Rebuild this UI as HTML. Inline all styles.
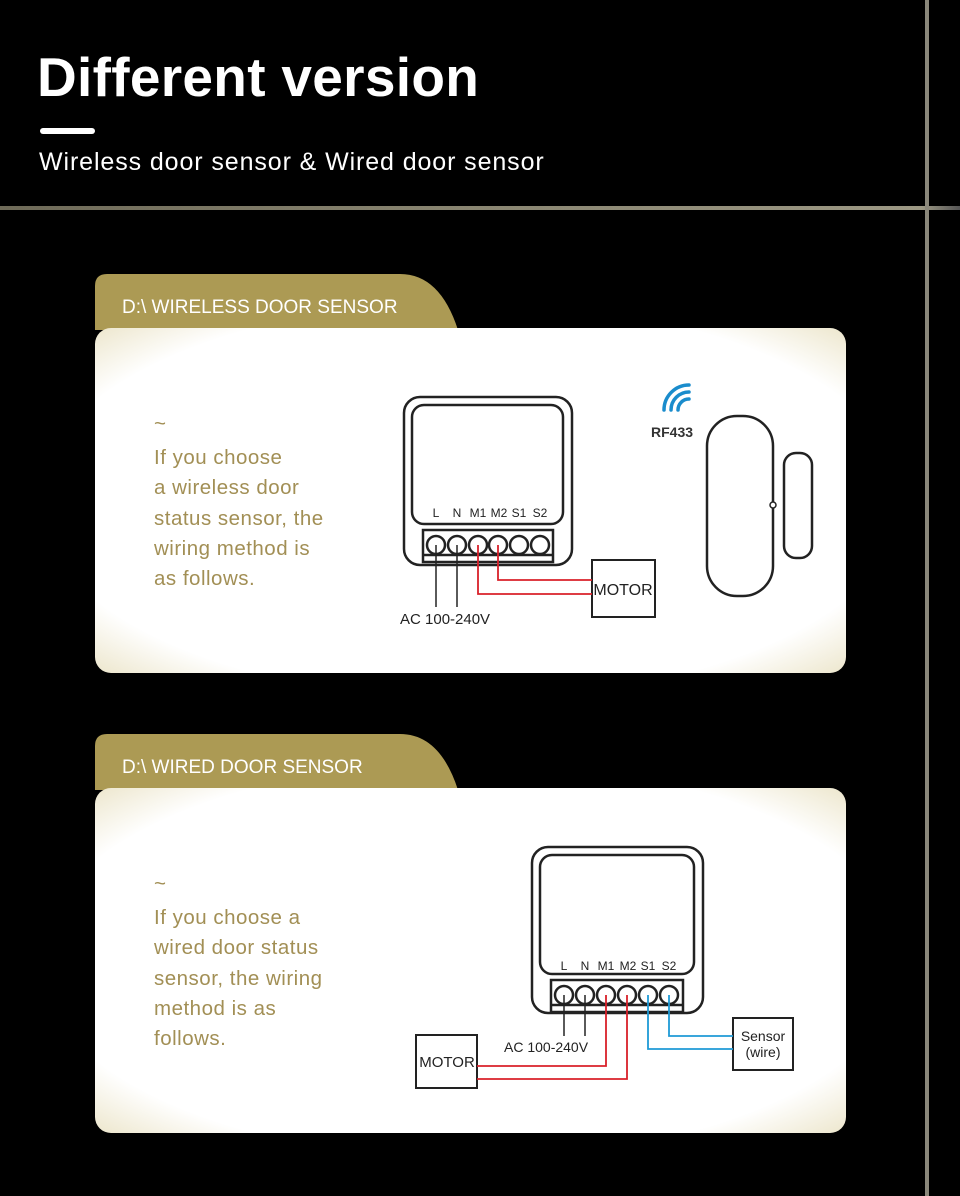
<!DOCTYPE html>
<html><head><meta charset="utf-8"><style>
html,body{margin:0;padding:0;background:#000;}
svg{display:block}
</style></head><body>
<svg width="960" height="1196" viewBox="0 0 960 1196" xmlns="http://www.w3.org/2000/svg" font-family="Liberation Sans, sans-serif">
<defs>
<linearGradient id="hl" x1="0" x2="1"><stop offset="0" stop-color="#6e6a58"/><stop offset="0.5" stop-color="#8a8672"/><stop offset="0.96" stop-color="#9c9884"/><stop offset="1" stop-color="#555"/></linearGradient>
<radialGradient id="cg" cx="0.5" cy="0.5" r="0.72"><stop offset="0.8" stop-color="#ffffff"/><stop offset="1" stop-color="#ebe4c8"/></radialGradient>
</defs>
<rect width="960" height="1196" fill="#000"/>
<rect x="0" y="206" width="960" height="4" fill="url(#hl)"/>
<rect x="925" y="0" width="4" height="1196" fill="#8a877a"/>
<text x="37" y="96" fill="#fff" font-size="55" font-weight="bold" letter-spacing="0.3">Different version</text>
<rect x="40" y="128" width="55" height="6" rx="3" fill="#fff"/>
<text x="39" y="170" fill="#fff" font-size="25" letter-spacing="0.9">Wireless door sensor &amp; Wired door sensor</text>

<!-- card 1 -->
<path d="M95 340 V286 Q95 274 107 274 H400 Q440 274 458 330 H95Z" fill="#ac9a54"/>
<text x="122" y="313" fill="#fff" font-size="19">D:\ WIRELESS DOOR SENSOR</text>
<rect x="95" y="328" width="751" height="345" rx="16" fill="url(#cg)"/>
<g fill="#a28f55" font-size="20.5" letter-spacing="0.5">
<text x="154" y="430">~</text>
<text x="154" y="464">If you choose</text>
<text x="154" y="494">a wireless door</text>
<text x="154" y="525">status sensor, the</text>
<text x="154" y="555">wiring method is</text>
<text x="154" y="585">as follows.</text>
</g>
<g fill="none" stroke="#222" stroke-width="2.5">
<rect x="404" y="397" width="168" height="168" rx="16"/>
<rect x="412" y="405" width="151" height="119" rx="12"/>
<rect x="423" y="530" width="130" height="32"/>
<line x1="423" y1="555" x2="553" y2="555"/>
<circle cx="436" cy="545" r="9"/><circle cx="457" cy="545" r="9"/><circle cx="478" cy="545" r="9"/><circle cx="498" cy="545" r="9"/><circle cx="519" cy="545" r="9"/><circle cx="540" cy="545" r="9"/>
<rect x="592" y="560" width="63" height="57" stroke-width="2"/>
<rect x="707" y="416" width="66" height="180" rx="30"/>
<rect x="784" y="453" width="28" height="105" rx="12"/>
</g>
<g stroke="#222" stroke-width="1.5"><line x1="436" y1="545" x2="436" y2="607"/><line x1="457" y1="545" x2="457" y2="607"/></g>
<g fill="none" stroke="#d9202a" stroke-width="1.8"><path d="M478 545 V594 H592"/><path d="M498 545 V580 H592"/></g>
<g fill="#222" font-size="12" text-anchor="middle"><text x="436" y="517">L</text><text x="457" y="517">N</text><text x="478" y="517">M1</text><text x="499" y="517">M2</text><text x="519" y="517">S1</text><text x="540" y="517">S2</text></g>
<text x="623" y="595" fill="#222" font-size="16" text-anchor="middle">MOTOR</text>
<text x="400" y="624" fill="#222" font-size="15">AC 100-240V</text>
<g fill="none" stroke="#1a8ccc" stroke-width="3.5" stroke-linecap="round">
<path d="M664 410 A25 25 0 0 1 689 385"/><path d="M671 410 A18 18 0 0 1 689 392"/><path d="M678 410 A11 11 0 0 1 689 399"/>
</g>
<text x="651" y="437" fill="#333" font-size="14" font-weight="bold">RF433</text>
<circle cx="773" cy="505" r="3" fill="#fff" stroke="#222" stroke-width="1.5"/>

<!-- card 2 -->
<path d="M95 800 V746 Q95 734 107 734 H400 Q440 734 458 790 H95Z" fill="#ac9a54"/>
<text x="122" y="773" fill="#fff" font-size="19">D:\ WIRED DOOR SENSOR</text>
<rect x="95" y="788" width="751" height="345" rx="16" fill="url(#cg)"/>
<g fill="#a28f55" font-size="20.5" letter-spacing="0.5">
<text x="154" y="890">~</text>
<text x="154" y="924">If you choose a</text>
<text x="154" y="954">wired door status</text>
<text x="154" y="985">sensor, the wiring</text>
<text x="154" y="1015">method is as</text>
<text x="154" y="1045">follows.</text>
</g>
<g fill="none" stroke="#222" stroke-width="2.5">
<rect x="532" y="847" width="171" height="166" rx="16"/>
<rect x="540" y="855" width="154" height="119" rx="12"/>
<rect x="551" y="980" width="132" height="32"/>
<line x1="551" y1="1005" x2="683" y2="1005"/>
<circle cx="564" cy="995" r="9"/><circle cx="585" cy="995" r="9"/><circle cx="606" cy="995" r="9"/><circle cx="627" cy="995" r="9"/><circle cx="648" cy="995" r="9"/><circle cx="669" cy="995" r="9"/>
<rect x="416" y="1035" width="61" height="53" stroke-width="2"/>
<rect x="733" y="1018" width="60" height="52" stroke-width="2"/>
</g>
<g stroke="#222" stroke-width="1.5"><line x1="564" y1="995" x2="564" y2="1036"/><line x1="585" y1="995" x2="585" y2="1036"/></g>
<g fill="none" stroke="#d9202a" stroke-width="1.8"><path d="M606 995 V1066 H477"/><path d="M627 995 V1079 H477"/></g>
<g fill="none" stroke="#1e9ad6" stroke-width="1.8"><path d="M648 995 V1049 H733"/><path d="M669 995 V1036 H733"/></g>
<g fill="#222" font-size="12" text-anchor="middle"><text x="564" y="970">L</text><text x="585" y="970">N</text><text x="606" y="970">M1</text><text x="628" y="970">M2</text><text x="648" y="970">S1</text><text x="669" y="970">S2</text></g>
<text x="447" y="1067" fill="#222" font-size="15" text-anchor="middle">MOTOR</text>
<text x="763" y="1041" fill="#222" font-size="14" text-anchor="middle">Sensor</text>
<text x="763" y="1057" fill="#222" font-size="14" text-anchor="middle">(wire)</text>
<text x="504" y="1052" fill="#222" font-size="14">AC 100-240V</text>
</svg>
</body></html>
